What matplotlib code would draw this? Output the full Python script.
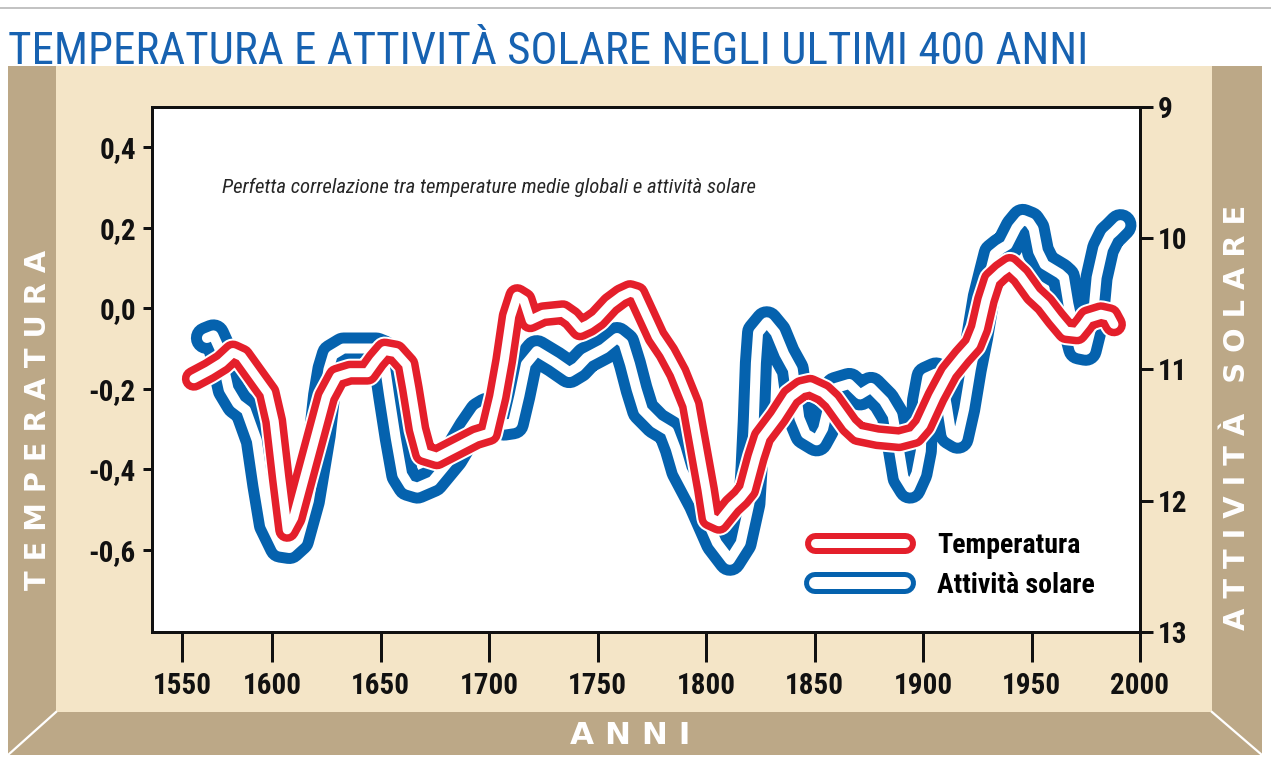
import matplotlib
matplotlib.use("Agg")
import matplotlib.pyplot as plt
import matplotlib.patheffects as pe
from matplotlib import font_manager as fm
from matplotlib.font_manager import FontProperties
from matplotlib.lines import Line2D
from matplotlib.patches import Polygon, Rectangle

# ---------------- data ----------------
temp_years = [1564, 1571, 1577, 1582, 1586, 1592, 1598, 1601, 1604, 1607,
              1610, 1614, 1618, 1621, 1625, 1630, 1636, 1644, 1648, 1652,
              1657, 1662, 1664, 1667, 1670, 1676, 1685, 1694, 1700, 1704,
              1707, 1710, 1713, 1716, 1719, 1725, 1734, 1738, 1742, 1746,
              1750, 1756, 1761, 1765, 1768, 1771, 1777, 1782, 1787, 1793,
              1797, 1800, 1802, 1806, 1812, 1816, 1819, 1823, 1826, 1833,
              1839, 1844, 1848, 1854, 1858, 1862, 1866, 1870, 1879, 1889,
              1896, 1900, 1906, 1912, 1918, 1923, 1926, 1929, 1932, 1936,
              1940, 1945, 1951, 1956, 1961, 1966, 1971, 1974, 1976, 1982,
              1986, 1988]
temp_values = [-0.175, -0.155, -0.135, -0.11, -0.12, -0.165, -0.21, -0.28, -0.42, -0.55,
               -0.52, -0.44, -0.36, -0.30, -0.22, -0.17, -0.16, -0.16, -0.13, -0.105,
               -0.11, -0.14, -0.20, -0.30, -0.36, -0.37, -0.345, -0.32, -0.31, -0.22,
               -0.13, -0.02, 0.03, 0.02, -0.03, -0.015, -0.01, -0.025, -0.05, -0.04,
               -0.025, 0.01, 0.03, 0.04, 0.035, 0.0, -0.07, -0.11, -0.16, -0.24,
               -0.36, -0.45, -0.52, -0.53, -0.49, -0.47, -0.45, -0.37, -0.32, -0.27,
               -0.22, -0.20, -0.195, -0.21, -0.23, -0.26, -0.29, -0.31, -0.32, -0.325,
               -0.315, -0.29, -0.22, -0.16, -0.12, -0.09, -0.05, 0.02, 0.07, 0.09,
               0.105, 0.08, 0.035, 0.01, -0.025, -0.057, -0.06, -0.04, -0.025, -0.015,
               -0.02, -0.04]

solar_years = [1570, 1573, 1576, 1580, 1584, 1588, 1593, 1596, 1599, 1604,
               1608, 1612, 1617, 1620, 1622, 1624, 1626, 1628, 1633, 1642,
               1648, 1651, 1654, 1657, 1660, 1663, 1667, 1674, 1683, 1691,
               1696, 1699, 1703, 1707, 1711, 1714, 1717, 1722, 1730, 1737,
               1741, 1745, 1753, 1759, 1762, 1765, 1768, 1771, 1777, 1783,
               1786, 1789, 1797, 1805, 1811, 1816, 1820, 1821, 1822, 1823,
               1824, 1828, 1832, 1836, 1840, 1843, 1846, 1851, 1854, 1856,
               1860, 1866, 1871, 1876, 1882, 1886, 1889, 1891, 1894, 1897,
               1899, 1900, 1902, 1906, 1909, 1911, 1913, 1916, 1919, 1922,
               1925, 1928, 1931, 1933, 1936, 1939, 1943, 1946, 1949, 1951,
               1953, 1956, 1959, 1963, 1965, 1967, 1969, 1972, 1975, 1978,
               1980, 1983, 1986, 1988, 1991]
solar_values = [10.76, 10.74, 10.85, 11.15, 11.26, 11.31, 11.54, 11.88, 12.18, 12.35,
                12.36, 12.30, 12.0, 11.7, 11.5, 11.2, 11.0, 10.89, 10.84, 10.84,
                10.84, 10.86, 11.2, 11.52, 11.80, 11.88, 11.90, 11.85, 11.67, 11.45,
                11.33, 11.30, 11.33, 11.42, 11.41, 11.2, 10.96, 10.86, 10.94, 11.02,
                10.98, 10.91, 10.84, 10.76, 10.8, 10.96, 11.15, 11.31, 11.41, 11.47,
                11.6, 11.77, 12.02, 12.32, 12.45, 12.32, 12.02, 11.75, 11.4, 10.95,
                10.72, 10.64, 10.72, 10.88, 11.0, 11.37, 11.49, 11.54, 11.45, 11.31,
                11.14, 11.11, 11.19, 11.14, 11.24, 11.35, 11.62, 11.82, 11.90, 11.79,
                11.62, 11.24, 11.06, 11.03, 11.1, 11.28, 11.49, 11.52, 11.3, 11.0,
                10.75, 10.45, 10.25, 10.12, 10.08, 10.05, 9.92, 9.86, 9.88, 9.93,
                10.1, 10.2, 10.23, 10.27, 10.3, 10.5, 10.65, 10.84, 10.85, 10.65,
                10.3, 10.08, 9.98, 9.95, 9.9]

x_tick_pos = [1558.5, 1600, 1650, 1700, 1750, 1800, 1850, 1900, 1950, 2000]
x_tick_labels = ["1550", "1600", "1650", "1700", "1750", "1800", "1850", "1900", "1950", "2000"]
temp_ticks = [0.4, 0.2, 0.0, -0.2, -0.4, -0.6]
temp_tick_labels = ["0,4", "0,2", "0,0", "-0,2", "-0,4", "-0,6"]
solar_ticks = [9, 10, 11, 12, 13]
solar_tick_labels = ["9", "10", "11", "12", "13"]

title_text = "TEMPERATURA E ATTIVITÀ SOLARE NEGLI ULTIMI 400 ANNI"
subtitle_text = "Perfetta correlazione tra temperature medie globali e attività solare"
legend_labels = ["Temperatura", "Attività solare"]
left_label = "T E M P E R A T U R A"
right_label = "A T T I V I T À   S O L A R E"
bottom_label = "A N N I"

# ---------------- style ----------------
RED = "#E41F2B"
BLUE = "#0562AE"
TITLE_BLUE = "#1762B1"
LIGHT = "#F4E5C7"
DARK = "#BCA887"

W, H, DPI = 1271, 767, 100
PX = 72.0 / DPI  # points per pixel

names = {f.name for f in fm.fontManager.ttflist}


def first(cands, default=None):
    for c in cands:
        if c in names:
            return c
    return default


NARROW = first(["Liberation Sans Narrow", "Roboto Condensed", "Open Sans Condensed",
                "DejaVu Sans Condensed", "Noto Sans Condensed", "Arial Narrow"])
STRETCH = "normal"
if NARROW is None:
    cond = [f for f in fm.fontManager.ttflist
            if str(f.stretch) in ("condensed", "semi-condensed", "extra-condensed", "ultra-condensed")]
    if cond:
        NARROW = cond[0].name
        STRETCH = cond[0].stretch
    else:
        NARROW = "Liberation Sans"
BOLD = "DejaVu Sans"

fig = plt.figure(figsize=(W / DPI, H / DPI), dpi=DPI, facecolor="white")
renderer = fig.canvas.get_renderer()


def fit(text, target_w, **kw):
    t = fig.text(0, 0, text, fontsize=20, **kw)
    w = t.get_window_extent(renderer).width
    t.remove()
    return 20.0 * target_w / w


# ---------------- frame (background) ----------------
bg = fig.add_axes([0, 0, 1, 1], zorder=0)
bg.set_xlim(0, W)
bg.set_ylim(H, 0)
bg.axis("off")
bg.add_patch(Rectangle((8, 66), 1254, 689, fc=LIGHT, ec="none"))
bg.add_patch(Polygon([(8, 66), (56, 66), (56, 712), (8, 755)], closed=True, fc=DARK, ec="none"))
bg.add_patch(Polygon([(8, 755), (56, 712), (1212, 712), (1262, 755)], closed=True, fc=DARK, ec="none"))
bg.add_patch(Polygon([(1212, 66), (1262, 66), (1262, 755), (1212, 712)], closed=True, fc=DARK, ec="none"))
bg.plot([8, 56], [755, 712], color="white", lw=1.6)
bg.plot([1212, 1262], [712, 755], color="white", lw=1.6)
bg.plot([0, W], [8, 8], color="#b8b8b8", lw=1.2)

# title
tfs = fit(title_text, 1080, family=NARROW, fontstretch=STRETCH)
bg.text(8, 64, title_text, fontsize=tfs, family=NARROW, fontstretch=STRETCH,
        color=TITLE_BLUE, ha="left", va="baseline")

# strip labels
lfs = fit(left_label, 340, family=BOLD, fontweight="bold")
bg.text(38, 420, left_label, rotation=90, fontsize=lfs, family=BOLD, fontweight="bold",
        color="white", ha="center", va="center")
rfs = fit(right_label, 425, family=BOLD, fontweight="bold")
bg.text(1237, 417, right_label, rotation=90, fontsize=rfs, family=BOLD, fontweight="bold",
        color="white", ha="center", va="center")
bfs = fit(bottom_label, 120, family=BOLD, fontweight="bold")
bg.text(630, 735, bottom_label, fontsize=bfs, family=BOLD, fontweight="bold",
        color="white", ha="center", va="center")

# ---------------- axes ----------------
AX_L, AX_R, AX_T, AX_B = 152, 1140, 107, 632
rect = [AX_L / W, (H - AX_B) / H, (AX_R - AX_L) / W, (AX_B - AX_T) / H]
ax2 = fig.add_axes(rect, zorder=1)
ax = fig.add_axes(rect, zorder=2, sharex=ax2)
ax.patch.set_visible(False)
ax2.set_facecolor("white")

ax.set_xlim(1544.7, 2000)
ax.set_ylim(-0.8035, 0.4993)
ax2.set_ylim(13, 9.0)

# blue: solar activity (right axis)
ax2.plot(solar_years, solar_values, color="white", lw=10 * PX,
         solid_capstyle="round", solid_joinstyle="round",
         path_effects=[pe.Stroke(linewidth=32 * PX, foreground=BLUE), pe.Normal()])
# red: temperature (left axis), on top
ax.plot(temp_years, temp_values, color="white", lw=9 * PX,
        solid_capstyle="round", solid_joinstyle="round",
        path_effects=[pe.Stroke(linewidth=28 * PX, foreground="white"),
                      pe.Stroke(linewidth=24 * PX, foreground=RED), pe.Normal()])

tick_fs = fit("1550", 59, family=NARROW, fontweight="bold", fontstretch=STRETCH)
tick_font = dict(family=NARROW, weight="bold", size=tick_fs, stretch=STRETCH)

ax.set_xticks(x_tick_pos)
ax.set_xticklabels(x_tick_labels, fontdict=tick_font)
ax.set_yticks(temp_ticks)
ax.set_yticklabels(temp_tick_labels, fontdict=tick_font)
ax2.set_yticks(solar_ticks)
ax2.set_yticklabels(solar_tick_labels, fontdict=tick_font)

ax.tick_params(axis="x", direction="out", length=30 * PX, width=3 * PX, pad=10 * PX, colors="#111111")
ax.tick_params(axis="y", direction="out", length=9 * PX, width=3 * PX, pad=7 * PX, colors="#111111",
               left=True, right=False)
ax2.tick_params(axis="y", direction="out", length=13 * PX, width=3 * PX, pad=5 * PX, colors="#111111",
                left=False, right=True, labelleft=False, labelright=True)
ax2.tick_params(axis="x", bottom=False, labelbottom=False)

for a in (ax, ax2):
    for s in a.spines.values():
        s.set_linewidth(3 * PX)
        s.set_color("#111111")

# subtitle
sfs = fit(subtitle_text, 533, family=NARROW, style="italic", fontstretch=STRETCH)
ax.text((222 - AX_L) / (AX_R - AX_L), (AX_B - 187) / (AX_B - AX_T), subtitle_text,
        transform=ax.transAxes, fontsize=sfs, family=NARROW, style="italic",
        fontstretch=STRETCH, color="#262626", ha="left", va="center")

# legend
leg_fs = fit(legend_labels[0], 143, family=NARROW, fontweight="bold", fontstretch=STRETCH)
fs_px = leg_fs / PX
h_red = Line2D([], [], color="white", lw=9 * PX, solid_capstyle="round",
               path_effects=[pe.Stroke(linewidth=21 * PX, foreground=RED), pe.Normal()])
h_blue = Line2D([], [], color="white", lw=12 * PX, solid_capstyle="round",
                path_effects=[pe.Stroke(linewidth=22 * PX, foreground=BLUE), pe.Normal()])
ax.legend([h_red, h_blue], legend_labels, loc="center left",
          bbox_to_anchor=((815 - AX_L) / (AX_R - AX_L), (AX_B - 565.5) / (AX_B - AX_T)),
          frameon=False, borderpad=0, borderaxespad=0,
          handlelength=90 / fs_px, handletextpad=32 / fs_px,
          labelspacing=max(0.05, (47 - 1.2 * fs_px) / fs_px),
          prop=FontProperties(family=NARROW, weight="bold", size=leg_fs, stretch=STRETCH))

fig.savefig("out.png", dpi=DPI, facecolor="white")
